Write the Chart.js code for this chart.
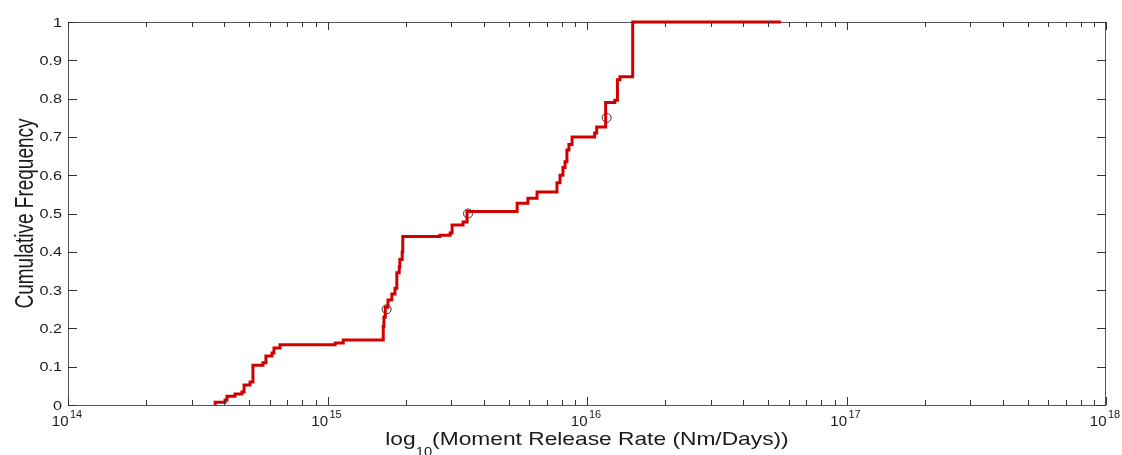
<!DOCTYPE html>
<html>
<head>
<meta charset="utf-8">
<script src="https://cdn.jsdelivr.net/npm/chart.js@4.4.0/dist/chart.umd.min.js"></script>
<style>
  html, body { margin: 0; padding: 0; background: #fff; }
</style>
</head>
<body>
<canvas id="cdf" width="1122" height="455"></canvas>
<script>
// step positions of the empirical CDF (Nm/day) and the frequency reached there
const rates = [
  3.69e14, 4.03e14, 4.10e14, 4.40e14, 4.68e14, 4.77e14, 5.03e14, 5.16e14,
  5.64e14, 5.79e14, 6.11e14, 6.22e14, 6.56e14, 1.07e15, 1.15e15,
  1.64e15, 1.65e15, 1.67e15, 1.71e15, 1.77e15, 1.82e15, 1.85e15, 1.89e15,
  1.90e15, 1.94e15, 1.95e15, 2.71e15, 2.97e15, 3.02e15, 3.33e15, 3.45e15,
  5.38e15, 5.92e15, 6.42e15, 7.66e15, 7.87e15, 8.08e15, 8.23e15, 8.37e15,
  8.52e15, 8.76e15, 1.07e16, 1.09e16, 1.18e16, 1.28e16, 1.31e16, 1.34e16,
  1.50e16, 5.59e16
];
const freqs = [
  0.007, 0.013, 0.023, 0.029, 0.034, 0.052, 0.060, 0.104,
  0.110, 0.128, 0.136, 0.149, 0.157, 0.162, 0.170,
  0.205, 0.230, 0.255, 0.274, 0.290, 0.305, 0.345, 0.360,
  0.380, 0.400, 0.440, 0.443, 0.449, 0.470, 0.478, 0.505,
  0.527, 0.540, 0.556, 0.580, 0.600, 0.620, 0.635, 0.666,
  0.680, 0.700, 0.710, 0.726, 0.790, 0.796, 0.849, 0.857,
  1.000, 1.000
];
// quartile markers
const quartileRates = [1.69e15, 3.48e15, 1.19e16];
const quartileFreqs = [0.25, 0.5, 0.75];

const yTicks = [0, 0.1, 0.2, 0.3, 0.4, 0.5, 0.6, 0.7, 0.8, 0.9, 1];
const xDecades = [14, 15, 16, 17, 18];

const stepData = [{ x: rates[0], y: 0 }].concat(rates.map((r, i) => ({ x: r, y: freqs[i] })));
const quartData = quartileRates.map((r, i) => ({ x: r, y: quartileFreqs[i] }));

const FONT = '"Liberation Sans", Arial, sans-serif';
const TXT = '#1a1a1a';

function drawText(ctx, text, x, y, size, sx, align) {
  ctx.save();
  ctx.font = size + 'px ' + FONT;
  ctx.translate(x, y);
  ctx.scale(sx, 1);
  ctx.textAlign = align;
  ctx.textBaseline = 'alphabetic';
  ctx.fillText(text, 0, 0);
  ctx.restore();
}

// matlab style box, inward ticks and labels
const matlabAxes = {
  id: 'matlabAxes',
  beforeDatasetsDraw(chart) {
    const { ctx, chartArea: a } = chart;
    ctx.save();
    ctx.strokeStyle = '#555';
    ctx.lineWidth = 1;
    ctx.strokeRect(Math.round(a.left) + 0.5, Math.round(a.top) + 0.5,
      Math.round(a.right - a.left) - 1, Math.round(a.bottom - a.top));
    ctx.restore();
  },
  afterDatasetsDraw(chart) {
    const { ctx, chartArea: a } = chart;
    const xs = chart.scales.x, ys = chart.scales.y;
    ctx.save();
    ctx.strokeStyle = '#333';
    ctx.lineWidth = 1;
    ctx.beginPath();
    xDecades.forEach(e => {
      for (let m = 1; m <= 9; m++) {
        if (e === 18 && m > 1) break;
        const px = Math.round(xs.getPixelForValue(m * Math.pow(10, e))) + 0.5;
        const len = m === 1 ? 8 : 5;
        ctx.moveTo(px, a.bottom);
        ctx.lineTo(px, a.bottom - len);
        ctx.moveTo(px, a.top);
        ctx.lineTo(px, a.top + len);
      }
    });
    yTicks.forEach(v => {
      const py = Math.round(ys.getPixelForValue(v)) + 0.5;
      ctx.moveTo(a.left, py);
      ctx.lineTo(a.left + 9, py);
      ctx.moveTo(a.right, py);
      ctx.lineTo(a.right - 9, py);
    });
    ctx.stroke();

    ctx.fillStyle = TXT;
    // y tick labels
    yTicks.forEach(v => {
      const py = ys.getPixelForValue(v);
      drawText(ctx, String(v), a.left - 6, py + 4.5, 12, 1.35, 'right');
    });
    // x tick labels 10^n
    xDecades.forEach(e => {
      const px = xs.getPixelForValue(Math.pow(10, e));
      drawText(ctx, '10', px + 0.5, a.bottom + 21, 15, 1, 'right');
      drawText(ctx, String(e), px + 2, a.bottom + 13, 10, 1.1, 'left');
    });

    // x axis title with subscript
    const sx = 1.23;
    ctx.font = '18.5px ' + FONT;
    const w1 = ctx.measureText('log').width;
    const w3 = ctx.measureText('(Moment Release Rate (Nm/Days))').width;
    ctx.font = '12px ' + FONT;
    const w2 = ctx.measureText('10').width;
    const total = (w1 + w2 + w3) * sx;
    let x0 = (a.left + a.right) / 2 - total / 2;
    drawText(ctx, 'log', x0, a.bottom + 40, 18.5, sx, 'left');
    x0 += w1 * sx;
    drawText(ctx, '10', x0, a.bottom + 51, 12, sx, 'left');
    x0 += w2 * sx;
    drawText(ctx, '(Moment Release Rate (Nm/Days))', x0, a.bottom + 40, 18.5, sx, 'left');

    // y axis title, rotated
    ctx.save();
    ctx.font = '19px ' + FONT;
    ctx.translate(33, (a.top + a.bottom) / 2);
    ctx.rotate(-Math.PI / 2);
    ctx.scale(1, 1.33);
    ctx.textAlign = 'center';
    ctx.textBaseline = 'alphabetic';
    ctx.fillText('Cumulative Frequency', 0, 0);
    ctx.restore();

    ctx.restore();
  }
};

new Chart(document.getElementById('cdf').getContext('2d'), {
  type: 'scatter',
  data: {
    datasets: [
      {
        label: 'CDF',
        data: stepData,
        showLine: true,
        stepped: true,
        borderColor: '#cf0000',
        borderWidth: 3,
        pointRadius: 0,
        fill: false,
        clip: 4
      },
      {
        label: 'Quartiles',
        data: quartData,
        showLine: false,
        pointStyle: 'circle',
        pointRadius: 4.5,
        pointBorderWidth: 1,
        pointBorderColor: '#333',
        pointBackgroundColor: 'rgba(0,0,0,0)'
      }
    ]
  },
  options: {
    responsive: false,
    animation: false,
    devicePixelRatio: 1,
    layout: { padding: { top: 22, right: 16, left: 0, bottom: 0 } },
    plugins: {
      legend: { display: false },
      tooltip: { enabled: false }
    },
    scales: {
      x: {
        type: 'logarithmic',
        min: 1e14,
        max: 1e18,
        grid: { display: false },
        border: { display: false },
        ticks: { display: false },
        afterFit: s => { s.height = 50; }
      },
      y: {
        type: 'linear',
        min: 0,
        max: 1,
        grid: { display: false },
        border: { display: false },
        ticks: { display: false },
        afterFit: s => { s.width = 68; }
      }
    }
  },
  plugins: [matlabAxes]
});
</script>
</body>
</html>
